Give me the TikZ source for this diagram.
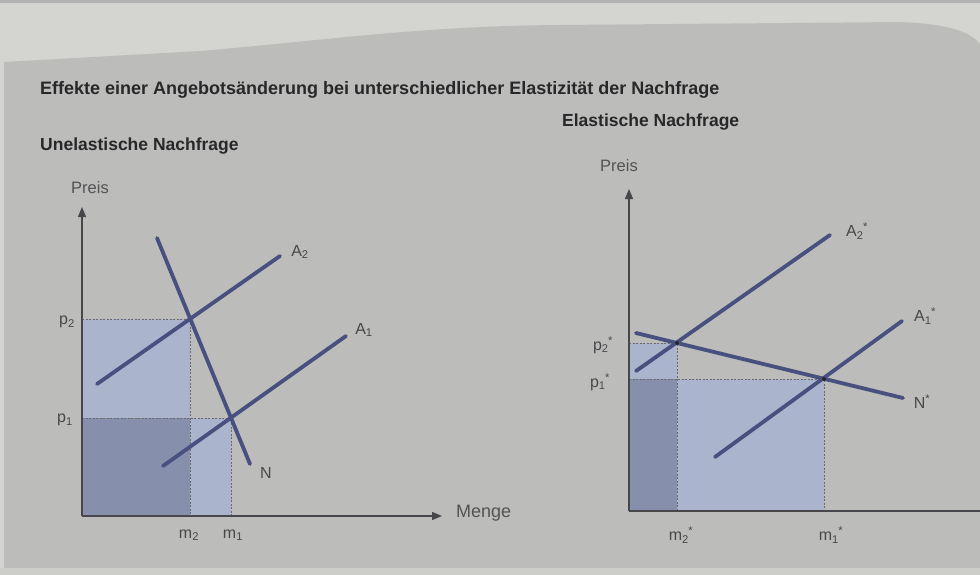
\documentclass[tikz,border=0pt]{standalone}
\usepackage{fontspec}
\setmainfont{Liberation Sans}
\usetikzlibrary{arrows.meta}
\definecolor{pagegray}{RGB}{188,188,186}
\definecolor{topgray}{RGB}{212,212,208}
\definecolor{botgray}{RGB}{205,205,202}
\definecolor{curve}{RGB}{72,80,128}
\definecolor{shadedark}{RGB}{134,144,172}
\definecolor{shadelight}{RGB}{170,180,204}
\definecolor{ink}{RGB}{40,40,42}
\definecolor{axisc}{RGB}{70,70,75}
\tikzset{
  curveline/.style={draw=curve,line width=3.8pt,line cap=round},
  axisline/.style={draw=axisc,line width=1.3pt,-{Triangle[length=10pt,width=8pt]}},
  axisplain/.style={draw=axisc,line width=1.3pt},
  guide/.style={draw=axisc!80,line width=0.6pt,dash pattern=on 2pt off 1.5pt},
  lbl/.style={text=ink!85,font=\fontsize{16}{18}\selectfont,inner sep=1pt},
  axlbl/.style={text=ink!80,font=\fontsize{16.5}{19}\selectfont,inner sep=1pt},
  head/.style={text=ink,font=\bfseries\fontsize{18}{21}\selectfont,inner sep=0pt,anchor=west},
  subhead/.style={text=ink,font=\bfseries\fontsize{17.5}{20}\selectfont,inner sep=0pt,anchor=west}
}
\newcommand{\subsup}[2]{\textsubscript{#1}\kern-0.5pt\textsuperscript{#2}}
\begin{document}
\begin{tikzpicture}[x=1pt,y=-1pt]
\useasboundingbox (0,0) rectangle (980,575);
% background
\fill[topgray] (0,0) rectangle (980,575);
\fill[gray!60] (0,0) rectangle (980,3);
\fill[pagegray] (4,62) -- (200,51) .. controls (330,40) and (420,26) .. (560,25)
  -- (900,22) .. controls (950,24) and (970,32) .. (980,44) -- (980,568) -- (4,568) -- cycle;
\fill[botgray] (0,568) rectangle (980,575);

% titles
\node[head] (title) at (40,90) {Effekte einer Angebotsänderung bei unterschiedlicher Elastizität der Nachfrage};
\node[subhead] (subl) at (40,146) {Unelastische Nachfrage};
\node[subhead] (subr) at (562,122) {Elastische Nachfrage};

% ===== left chart =====
\coordinate (LO) at (82,516);
\coordinate (LY) at (82,207);
\coordinate (LX) at (442,516);
\coordinate (LE2) at (190,319);
\coordinate (LE1) at (231,418);
\coordinate (Lp2) at (82,319);
\coordinate (Lp1) at (82,418);
\coordinate (Lm2) at (190,516);
\coordinate (Lm1) at (231,516);
\fill[shadelight] (82,319) rectangle (190,418);
\fill[shadelight] (190,418) rectangle (231,516);
\fill[shadedark] (82,418) rectangle (190,516);
\draw[guide] (Lp2) -- (LE2) -- (Lm2);
\draw[guide] (Lp1) -- (LE1) -- (Lm1);
\draw[axisline] (LO) -- (LY);
\draw[axisline] (LO) -- (LX);
\coordinate (LA2a) at (97,384);
\coordinate (LA2b) at (280,256);
\coordinate (LA1a) at (163,466);
\coordinate (LA1b) at (346,336);
\coordinate (LNa) at (157,238);
\coordinate (LNb) at (250,464);
\draw[curveline] (LA2a) -- (LA2b);
\draw[curveline] (LA1a) -- (LA1b);
\draw[curveline] (LNa) -- (LNb);
\node[axlbl] (lpreis) at (90,188) {Preis};
\node[axlbl,anchor=west,font=\fontsize{18}{20}\selectfont] (lmenge) at (455,513) {Menge};
\node[lbl] (lA2) at (300,252) {A\textsubscript{2}};
\node[lbl] (lA1) at (364,330) {A\textsubscript{1}};
\node[lbl] (lN) at (266,473) {N};
\node[lbl] (lp2) at (67,322) {p\textsubscript{2}};
\node[lbl] (lp1) at (65,420) {p\textsubscript{1}};
\node[lbl] (lm2) at (189,535) {m\textsubscript{2}};
\node[lbl] (lm1) at (233,535) {m\textsubscript{1}};

% ===== right chart =====
\coordinate (RO) at (629,511);
\coordinate (RY) at (629,189);
\coordinate (RX) at (981,511);
\coordinate (RE2) at (677,343);
\coordinate (RE1) at (824,379);
\coordinate (Rp2) at (629,343);
\coordinate (Rp1) at (629,379);
\coordinate (Rm2) at (677,511);
\coordinate (Rm1) at (824,511);
\fill[shadelight] (629,343) rectangle (677,379);
\fill[shadelight] (677,379) rectangle (824,511);
\fill[shadedark] (629,379) rectangle (677,511);
\draw[guide] (Rp2) -- (RE2) -- (Rm2);
\draw[guide] (Rp1) -- (RE1) -- (Rm1);
\draw[axisline] (RO) -- (RY);
\draw[axisplain] (RO) -- (RX);
\coordinate (RA2a) at (636,371);
\coordinate (RA2b) at (830,235);
\coordinate (RA1a) at (715,457);
\coordinate (RA1b) at (902,321);
\coordinate (RNa) at (636,333);
\coordinate (RNb) at (903,398);
\draw[curveline] (RA2a) -- (RA2b);
\draw[curveline] (RA1a) -- (RA1b);
\draw[curveline] (RNa) -- (RNb);
\fill[ink] (RE2) circle (2pt);
\fill[ink] (RE1) circle (2pt);
\node[axlbl] (rpreis) at (619,166) {Preis};
\node[lbl] (rA2) at (857,231) {A\subsup{2}{*}};
\node[lbl] (rA1) at (925,316) {A\subsup{1}{*}};
\node[lbl] (rN) at (922,402) {N\textsuperscript{*}};
\node[lbl] (rp2) at (603,345) {p\subsup{2}{*}};
\node[lbl] (rp1) at (600,382) {p\subsup{1}{*}};
\node[lbl] (rm2) at (681,535) {m\subsup{2}{*}};
\node[lbl] (rm1) at (831,535) {m\subsup{1}{*}};
\end{tikzpicture}
\end{document}
